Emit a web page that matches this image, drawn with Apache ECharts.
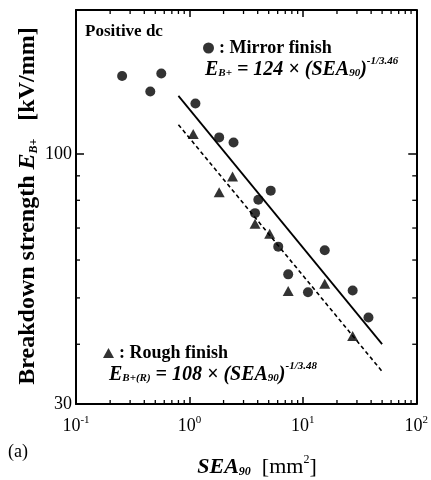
<!DOCTYPE html>
<html><head><meta charset="utf-8">
<script src="https://cdn.jsdelivr.net/npm/echarts@6/dist/echarts.min.js"></script>
<style>html,body{margin:0;padding:0;background:#fff}#chart{width:431px;height:480px}</style>
</head><body><div id="chart"></div>
<script>
// Mirror finish specimens: effective area SEA90 [mm²] and breakdown field EB+ [kV/mm]
const mirrorArea  = [0.255, 0.452, 0.565, 1.13, 1.83, 2.45, 3.79, 4.05, 5.21, 6.07, 7.43, 11.1, 15.6, 27.5, 37.9];
const mirrorField = [145.6, 135.1, 147.3, 127.5, 108.3, 105.7, 75.2, 80.2, 83.8, 64.0, 56.0, 51.4, 62.9, 51.8, 45.5];
// Rough finish specimens
const roughArea  = [1.08, 1.83, 2.40, 3.79, 5.10, 7.43, 15.6, 27.5];
const roughField = [110.1, 83.2, 89.7, 71.5, 68.1, 51.7, 53.5, 41.6];
// Power-law fits  E = A × SEA^(-1/m)  (mirror, rough)
const fitCoef = [124, 108];
const fitShape = [3.46, 3.48];
const fitAreaRange = [0.8, 50];
// Axis ranges and labels
const xRange = [0.1, 100];
const yRange = [30, 200];
const xLabelExponents = [-1, 0, 1, 2];
const yLabelValues = [30, 100];
const yMinorValues = [40, 50, 60, 70, 80, 90];

const FONT = 'Liberation Serif';
const xMinorValues = [];
for (let d = xRange[0]; d < xRange[1] - 1e-9; d *= 10) {
  for (let k = 2; k <= 9; k++) xMinorValues.push(+(k * d).toPrecision(3));
}

const zip = (a, b) => a.map((v, i) => [v, b[i]]);
const fitLine = i => fitAreaRange.map(s => [s, fitCoef[i] * Math.pow(s, -1 / fitShape[i])]);

const chart = echarts.init(document.getElementById('chart'), null, { renderer: 'canvas' });

const tickLine = (x1, y1, x2, y2) => ({
  type: 'line', shape: { x1, y1, x2, y2 }, style: { stroke: '#000', lineWidth: 1.3 }
});

const baseAxisLine = { show: true, lineStyle: { color: '#000', width: 2 } };

const eqRich = {
  i: { fontFamily: FONT, fontStyle: 'italic', fontWeight: 'bold', fontSize: 20, color: '#000', lineHeight: 24, verticalAlign: 'bottom' },
  sub: { fontFamily: FONT, fontStyle: 'italic', fontWeight: 'bold', fontSize: 11, color: '#000', verticalAlign: 'bottom', padding: [0, 0, 1, 0] },
  sup: { fontFamily: FONT, fontStyle: 'italic', fontWeight: 'bold', fontSize: 11, color: '#000', verticalAlign: 'top' }
};

chart.setOption({
  animation: false,
  backgroundColor: '#fff',
  grid: { left: 76, right: 14, top: 10, bottom: 76 },
  xAxis: [{
    type: 'log', logBase: 10, min: xRange[0], max: xRange[1],
    axisLine: baseAxisLine,
    axisTick: { show: true, inside: true, length: 7, lineStyle: { color: '#000', width: 1.5 } },
    splitLine: { show: false },
    axisLabel: {
      margin: 11, color: '#000',
      formatter: v => {
        const e = Math.round(Math.log10(v));
        return xLabelExponents.includes(e) ? '{b|10}{s|' + e + '}' : '';
      },
      rich: {
        b: { fontFamily: FONT, fontSize: 18, color: '#000', lineHeight: 20, verticalAlign: 'bottom' },
        s: { fontFamily: FONT, fontSize: 11, color: '#000', verticalAlign: 'top' }
      }
    }
  }, {
    type: 'log', logBase: 10, min: xRange[0], max: xRange[1], position: 'top',
    axisLine: baseAxisLine,
    axisTick: { show: true, inside: true, length: 7, lineStyle: { color: '#000', width: 1.5 } },
    axisLabel: { show: false }, splitLine: { show: false }
  }],
  yAxis: [{
    type: 'log', logBase: 10, min: yRange[0], max: yRange[1],
    axisLine: baseAxisLine,
    axisTick: { show: true, inside: true, length: 8, lineStyle: { color: '#000', width: 1.5 } },
    splitLine: { show: false },
    axisLabel: {
      margin: 4, color: '#000', fontFamily: FONT, fontSize: 18,
      formatter: v => yLabelValues.some(t => Math.abs(t - v) < 1e-6 * t) ? String(Math.round(v)) : ''
    }
  }, {
    type: 'log', logBase: 10, min: yRange[0], max: yRange[1], position: 'right',
    axisLine: baseAxisLine,
    axisTick: { show: true, inside: true, length: 8, lineStyle: { color: '#000', width: 1.5 } },
    axisLabel: { show: false }, splitLine: { show: false }
  }],
  legend: [{
    data: ['Mirror finish'], left: 198, top: 34, icon: 'circle',
    itemWidth: 11, itemHeight: 11, selectedMode: false,
    formatter: n => ': ' + n,
    textStyle: { fontFamily: FONT, fontWeight: 'bold', fontSize: 18, color: '#000' }
  }, {
    data: ['Rough finish'], left: 98, top: 339, icon: 'triangle',
    itemWidth: 11, itemHeight: 10, selectedMode: false,
    formatter: n => ': ' + n,
    textStyle: { fontFamily: FONT, fontWeight: 'bold', fontSize: 18, color: '#000' }
  }],
  series: [{
    name: 'Mirror fit', type: 'line', data: fitLine(0), symbol: 'none',
    lineStyle: { color: '#000', width: 1.8 }, z: 2
  }, {
    name: 'Rough fit', type: 'line', data: fitLine(1), symbol: 'none',
    lineStyle: { color: '#000', width: 1.6, type: [4, 3] }, z: 2
  }, {
    name: 'Mirror finish', type: 'scatter', data: zip(mirrorArea, mirrorField),
    symbol: 'circle', symbolSize: 10, itemStyle: { color: '#000' }, z: 3
  }, {
    name: 'Rough finish', type: 'scatter', data: zip(roughArea, roughField),
    symbol: 'triangle', symbolSize: [11, 10], itemStyle: { color: '#000' }, z: 3
  }, {
    // minor ticks along bottom and top frame
    name: 'x minor ticks', type: 'custom', silent: true, clip: false,
    data: xMinorValues.map(v => [v, yRange[0]]),
    renderItem: (params, api) => {
      const v = api.value(0);
      const b = api.coord([v, yRange[0]]);
      const t = api.coord([v, yRange[1]]);
      return { type: 'group', children: [
        tickLine(b[0], b[1], b[0], b[1] - 4),
        tickLine(t[0], t[1], t[0], t[1] + 4)
      ] };
    }
  }, {
    // minor ticks along left and right frame
    name: 'y minor ticks', type: 'custom', silent: true, clip: false,
    data: yMinorValues.map(v => [xRange[0], v]),
    renderItem: (params, api) => {
      const v = api.value(1);
      const l = api.coord([xRange[0], v]);
      const r = api.coord([xRange[1], v]);
      return { type: 'group', children: [
        tickLine(l[0], l[1], l[0] + 4, l[1]),
        tickLine(r[0], r[1], r[0] - 4, r[1])
      ] };
    }
  }],
  graphic: [{
    type: 'text', left: 85, top: 23,
    style: { text: 'Positive dc', fontFamily: FONT, fontWeight: 'bold', fontSize: 17, fill: '#000' }
  }, {
    type: 'text', x: 205, y: 68,
    style: {
      text: '{i|E}{sub|B+}{i| = 124 × (SEA}{sub|90}{i|)}{sup|-1/3.46}',
      rich: eqRich, verticalAlign: 'middle', align: 'left'
    }
  }, {
    type: 'text', x: 109, y: 373,
    style: {
      text: '{i|E}{sub|B+(R)}{i| = 108 × (SEA}{sub|90}{i|)}{sup|-1/3.48}',
      rich: eqRich, verticalAlign: 'middle', align: 'left'
    }
  }, {
    type: 'text', x: 8, y: 452,
    style: { text: '(a)', fontFamily: FONT, fontSize: 18, fill: '#000', verticalAlign: 'middle' }
  }, {
    type: 'text', x: 257, y: 466,
    style: {
      text: '{i|SEA}{sub|90}{r|  [mm}{sup|2}{r|]}',
      align: 'center', verticalAlign: 'middle',
      rich: {
        i: { fontFamily: FONT, fontStyle: 'italic', fontWeight: 'bold', fontSize: 22, color: '#000', lineHeight: 24, verticalAlign: 'bottom' },
        sub: { fontFamily: FONT, fontStyle: 'italic', fontWeight: 'bold', fontSize: 12, color: '#000', verticalAlign: 'bottom' },
        r: { fontFamily: FONT, fontSize: 22, color: '#000', lineHeight: 24, verticalAlign: 'bottom' },
        sup: { fontFamily: FONT, fontSize: 12, color: '#000', verticalAlign: 'top' }
      }
    }
  }, {
    type: 'text', x: 28, y: 206, rotation: Math.PI / 2,
    style: {
      text: '{r|Breakdown strength }{i|E}{sub|B+}{r|   [kV/mm]}',
      align: 'center', verticalAlign: 'middle',
      rich: {
        r: { fontFamily: FONT, fontWeight: 'bold', fontSize: 24, color: '#000', lineHeight: 24, verticalAlign: 'bottom' },
        i: { fontFamily: FONT, fontStyle: 'italic', fontWeight: 'bold', fontSize: 24, color: '#000', lineHeight: 24, verticalAlign: 'bottom' },
        sub: { fontFamily: FONT, fontStyle: 'italic', fontWeight: 'bold', fontSize: 12, color: '#000', verticalAlign: 'bottom' }
      }
    }
  }]
});
</script>
</body></html>
